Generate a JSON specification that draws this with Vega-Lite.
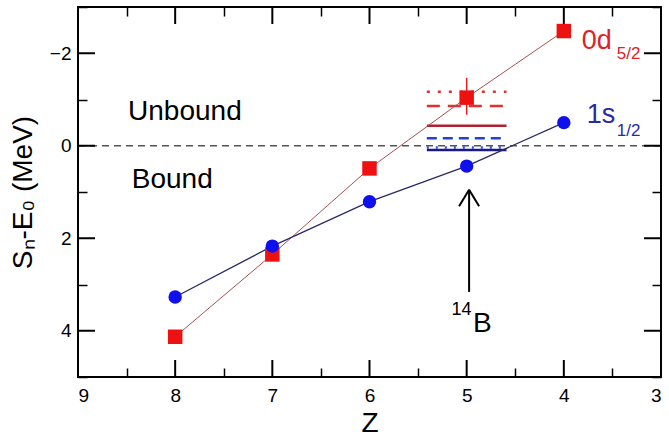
{
  "$schema": "https://vega.github.io/schema/vega-lite/v6.json",
  "autosize": {"type": "none"},
  "width": 583,
  "height": 370,
  "padding": {"left": 78, "top": 7, "right": 8, "bottom": 59},
  "config": {
    "font": "Liberation Sans",
    "view": {"stroke": "black", "strokeWidth": 2},
    "axis": {"grid": false, "domain": false, "tickColor": "black", "tickWidth": 1.5,
             "labelColor": "black", "titleColor": "black", "labelFontSize": 19,
             "titleFontSize": 28, "titleFontWeight": "normal", "labelFont": "Liberation Sans", "titleFont": "Liberation Sans"}
  },
  "datasets": {
    "d52": [
      {"Z": 8, "E": 4.13}, {"Z": 7, "E": 2.35}, {"Z": 6, "E": 0.49}, {"Z": 5, "E": -1.04}, {"Z": 4, "E": -2.48}
    ],
    "s12": [
      {"Z": 8, "E": 3.27}, {"Z": 7, "E": 2.17}, {"Z": 6, "E": 1.21}, {"Z": 5, "E": 0.44}, {"Z": 4, "E": -0.5}
    ],
    "zticks": [
      {"Z": 4, "E": 5, "E2": 4.633}, {"Z": 5, "E": 5, "E2": 4.633}, {"Z": 6, "E": 5, "E2": 4.633}, {"Z": 7, "E": 5, "E2": 4.633}, {"Z": 8, "E": 5, "E2": 4.633},
      {"Z": 4, "E": -3, "E2": -2.633}, {"Z": 5, "E": -3, "E2": -2.633}, {"Z": 6, "E": -3, "E2": -2.633}, {"Z": 7, "E": -3, "E2": -2.633}, {"Z": 8, "E": -3, "E2": -2.633}
    ],
    "eticks": [
      {"E": -2, "Z": 9, "Z2": 8.825}, {"E": 0, "Z": 9, "Z2": 8.825}, {"E": 2, "Z": 9, "Z2": 8.825}, {"E": 4, "Z": 9, "Z2": 8.825},
      {"E": -2, "Z": 3, "Z2": 3.175}, {"E": 0, "Z": 3, "Z2": 3.175}, {"E": 2, "Z": 3, "Z2": 3.175}, {"E": 4, "Z": 3, "Z2": 3.175}
    ]
  },
  "resolve": {"axis": {"x": "independent", "y": "independent"}},
  "layer": [
    {
      "data": {"name": "d52"},
      "mark": {"type": "point", "opacity": 0},
      "encoding": {
        "x": {"field": "Z", "type": "quantitative", "scale": {"domain": [3, 9], "reverse": true, "nice": false, "zero": false},
              "axis": {"orient": "bottom", "title": null, "labels": false, "values": [3.5,4.5,5.5,6.5,7.5,8.5], "tickSize": -9}},
        "y": {"field": "E", "type": "quantitative", "scale": {"domain": [-3, 5], "reverse": true, "nice": false, "zero": false},
              "axis": {"orient": "left", "title": null, "labels": false, "values": [-3,-1,1,3,5], "tickSize": -9}}
      }
    },
    {
      "data": {"name": "d52"},
      "mark": {"type": "point", "opacity": 0},
      "encoding": {
        "x": {"field": "Z", "type": "quantitative",
              "axis": {"orient": "top", "title": null, "labels": false, "values": [3.5,4.5,5.5,6.5,7.5,8.5], "tickSize": -9}},
        "y": {"field": "E", "type": "quantitative",
              "axis": {"orient": "right", "title": null, "labels": false, "values": [-3,-1,1,3,5], "tickSize": -9}}
      }
    },
    {
      "layer": [
        {
          "data": {"values": [{"E": 0}]},
          "mark": {"type": "rule", "color": "#555555", "strokeWidth": 1.5, "strokeDash": [7, 5]},
          "encoding": {
            "y": {"field": "E", "type": "quantitative",
                  "axis": {"orient": "left", "title": "Sₙ-E₀ (MeV)", "values": [-2, 0, 2, 4], "format": "d",
                           "ticks": false, "labelPadding": 7, "titlePadding": 12}}
          }
        },
        {
          "data": {"values": [{"Z": 5.41, "Z2": 4.59, "E": -1.17}]},
          "mark": {"type": "rule", "color": "#e03030", "strokeWidth": 2.5, "strokeDash": [3, 8]},
          "encoding": {
            "x": {"field": "Z", "type": "quantitative",
                  "axis": {"orient": "bottom", "title": "Z", "values": [3,4,5,6,7,8,9], "format": "d",
                           "ticks": false, "labelPadding": 9, "titlePadding": 4}},
            "x2": {"field": "Z2"},
            "y": {"field": "E", "type": "quantitative"}
          }
        },
        {
          "data": {"values": [{"Z": 5.41, "Z2": 4.59, "E": -0.86}]},
          "mark": {"type": "rule", "color": "#e03030", "strokeWidth": 2.5, "strokeDash": [13, 8]},
          "encoding": {"x": {"field": "Z", "type": "quantitative"}, "x2": {"field": "Z2"}, "y": {"field": "E", "type": "quantitative"}}
        },
        {
          "data": {"values": [{"Z": 5.41, "Z2": 4.59, "E": -0.43}]},
          "mark": {"type": "rule", "color": "#b02030", "strokeWidth": 2.5},
          "encoding": {"x": {"field": "Z", "type": "quantitative"}, "x2": {"field": "Z2"}, "y": {"field": "E", "type": "quantitative"}}
        },
        {
          "data": {"values": [{"Z": 5.41, "Z2": 4.59, "E": -0.16}]},
          "mark": {"type": "rule", "color": "#2040e0", "strokeWidth": 2.5, "strokeDash": [10, 6]},
          "encoding": {"x": {"field": "Z", "type": "quantitative"}, "x2": {"field": "Z2"}, "y": {"field": "E", "type": "quantitative"}}
        },
        {
          "data": {"values": [{"Z": 5.41, "Z2": 4.59, "E": 0.04}]},
          "mark": {"type": "rule", "color": "#3050e0", "strokeWidth": 2.5, "strokeDash": [2, 7]},
          "encoding": {"x": {"field": "Z", "type": "quantitative"}, "x2": {"field": "Z2"}, "y": {"field": "E", "type": "quantitative"}}
        },
        {
          "data": {"values": [{"Z": 5.41, "Z2": 4.59, "E": 0.09}]},
          "mark": {"type": "rule", "color": "#1a1a80", "strokeWidth": 2.5},
          "encoding": {"x": {"field": "Z", "type": "quantitative"}, "x2": {"field": "Z2"}, "y": {"field": "E", "type": "quantitative"}}
        },
        {
          "data": {"name": "d52"},
          "mark": {"type": "line", "color": "#a85050", "strokeWidth": 1},
          "encoding": {"x": {"field": "Z", "type": "quantitative"}, "y": {"field": "E", "type": "quantitative"}}
        },
        {
          "data": {"name": "s12"},
          "mark": {"type": "line", "color": "#2a2a66", "strokeWidth": 1.3},
          "encoding": {"x": {"field": "Z", "type": "quantitative"}, "y": {"field": "E", "type": "quantitative"}}
        },
        {
          "data": {"values": [{"Z": 5, "E": -1.47, "E2": -0.67}]},
          "mark": {"type": "rule", "color": "#e02020", "strokeWidth": 1.5},
          "encoding": {"x": {"field": "Z", "type": "quantitative"}, "y": {"field": "E", "type": "quantitative"}, "y2": {"field": "E2"}}
        },
        {
          "data": {"name": "d52"},
          "mark": {"type": "square", "color": "#ee1111", "opacity": 1, "filled": true, "size": 210},
          "encoding": {"x": {"field": "Z", "type": "quantitative"}, "y": {"field": "E", "type": "quantitative"}}
        },
        {
          "data": {"name": "s12"},
          "mark": {"type": "circle", "color": "#1010ee", "opacity": 1, "size": 180},
          "encoding": {"x": {"field": "Z", "type": "quantitative"}, "y": {"field": "E", "type": "quantitative"}}
        },
        {
          "data": {"values": [{"Z": 4.975, "E": 3.16, "E2": 0.95}]},
          "mark": {"type": "rule", "color": "black", "strokeWidth": 2},
          "encoding": {"x": {"field": "Z", "type": "quantitative"}, "y": {"field": "E", "type": "quantitative"}, "y2": {"field": "E2"}}
        },
        {
          "data": {"values": [{"Z": 4.975, "Z2": 5.078, "E": 0.95, "E2": 1.31}, {"Z": 4.975, "Z2": 4.872, "E": 0.95, "E2": 1.31}]},
          "mark": {"type": "rule", "color": "black", "strokeWidth": 2},
          "encoding": {"x": {"field": "Z", "type": "quantitative"}, "x2": {"field": "Z2"}, "y": {"field": "E", "type": "quantitative"}, "y2": {"field": "E2"}}
        },
        {
          "data": {"values": [{"Z": 7.9, "E": -0.56, "label": "Unbound"}, {"Z": 8.03, "E": 0.92, "label": "Bound"}]},
          "mark": {"type": "text", "fontSize": 28, "color": "black", "align": "center", "baseline": "alphabetic"},
          "encoding": {"x": {"field": "Z", "type": "quantitative"}, "y": {"field": "E", "type": "quantitative"}, "text": {"field": "label"}}
        },
        {
          "data": {"values": [{"Z": 4.935, "E": 4.03, "label": "B"}]},
          "mark": {"type": "text", "fontSize": 28, "color": "black", "align": "left", "baseline": "alphabetic"},
          "encoding": {"x": {"field": "Z", "type": "quantitative"}, "y": {"field": "E", "type": "quantitative"}, "text": {"field": "label"}}
        },
        {
          "data": {"values": [{"Z": 5.155, "E": 3.65, "label": "14"}]},
          "mark": {"type": "text", "fontSize": 18, "color": "black", "align": "left", "baseline": "alphabetic"},
          "encoding": {"x": {"field": "Z", "type": "quantitative"}, "y": {"field": "E", "type": "quantitative"}, "text": {"field": "label"}}
        },
        {
          "data": {"values": [{"Z": 3.816, "E": -2.086, "label": "0d"}]},
          "mark": {"type": "text", "fontSize": 27, "color": "#e0202a", "align": "left", "baseline": "alphabetic"},
          "encoding": {"x": {"field": "Z", "type": "quantitative"}, "y": {"field": "E", "type": "quantitative"}, "text": {"field": "label"}}
        },
        {
          "data": {"values": [{"Z": 3.455, "E": -1.87, "label": "5/2"}]},
          "mark": {"type": "text", "fontSize": 17, "color": "#e0202a", "align": "left", "baseline": "alphabetic"},
          "encoding": {"x": {"field": "Z", "type": "quantitative"}, "y": {"field": "E", "type": "quantitative"}, "text": {"field": "label"}}
        },
        {
          "data": {"values": [{"Z": 3.764, "E": -0.49, "label": "1s"}]},
          "mark": {"type": "text", "fontSize": 27, "color": "#2a2aa8", "align": "left", "baseline": "alphabetic"},
          "encoding": {"x": {"field": "Z", "type": "quantitative"}, "y": {"field": "E", "type": "quantitative"}, "text": {"field": "label"}}
        },
        {
          "data": {"values": [{"Z": 3.455, "E": -0.22, "label": "1/2"}]},
          "mark": {"type": "text", "fontSize": 17, "color": "#2a2aa8", "align": "left", "baseline": "alphabetic"},
          "encoding": {"x": {"field": "Z", "type": "quantitative"}, "y": {"field": "E", "type": "quantitative"}, "text": {"field": "label"}}
        },
        {
          "data": {"name": "zticks"},
          "mark": {"type": "rule", "color": "black", "strokeWidth": 2},
          "encoding": {"x": {"field": "Z", "type": "quantitative"}, "y": {"field": "E", "type": "quantitative"}, "y2": {"field": "E2"}}
        },
        {
          "data": {"name": "eticks"},
          "mark": {"type": "rule", "color": "black", "strokeWidth": 2},
          "encoding": {"x": {"field": "Z", "type": "quantitative"}, "x2": {"field": "Z2"}, "y": {"field": "E", "type": "quantitative"}}
        }
      ]
    }
  ]
}
